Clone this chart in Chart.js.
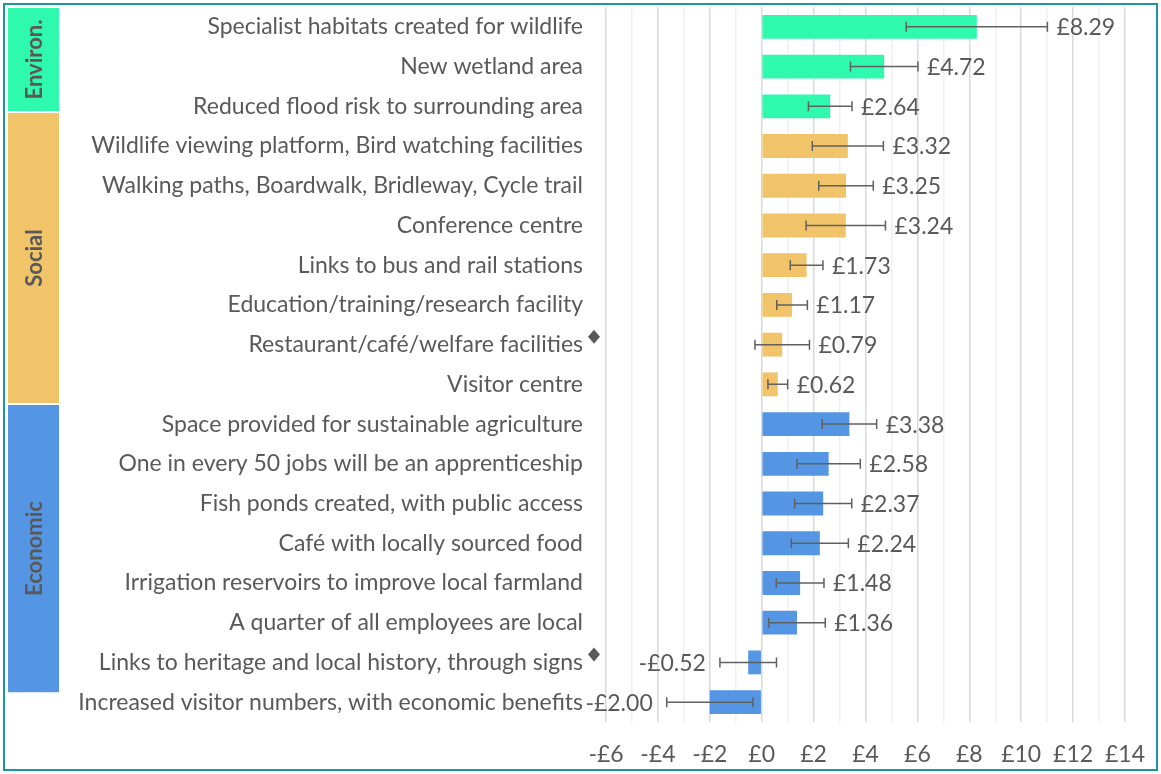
<!DOCTYPE html>
<html>
<head>
<meta charset="utf-8">
<script src="https://cdn.jsdelivr.net/npm/chart.js@4"></script>
<style>
  body { margin: 0; background: #fff; }
  canvas { display: block; }
</style>
</head>
<body>
<canvas id="wtpChart" width="1161" height="774"></canvas>
<script>
const categories = [
  "Specialist habitats created for wildlife",
  "New wetland area",
  "Reduced flood risk to surrounding area",
  "Wildlife viewing platform, Bird watching facilities",
  "Walking paths, Boardwalk, Bridleway, Cycle trail",
  "Conference centre",
  "Links to bus and rail stations",
  "Education/training/research facility",
  "Restaurant/café/welfare facilities",
  "Visitor centre",
  "Space provided for sustainable agriculture",
  "One in every 50 jobs will be an apprenticeship",
  "Fish ponds created, with public access",
  "Café with locally sourced food",
  "Irrigation reservoirs to improve local farmland",
  "A quarter of all employees are local",
  "Links to heritage and local history, through signs",
  "Increased visitor numbers, with economic benefits"
];
const values = [8.29, 4.72, 2.64, 3.32, 3.25, 3.24, 1.73, 1.17, 0.79, 0.62, 3.38, 2.58, 2.37, 2.24, 1.48, 1.36, -0.52, -2.00];
const errors = [2.72, 1.30, 0.84, 1.37, 1.05, 1.53, 0.63, 0.59, 1.05, 0.38, 1.05, 1.22, 1.10, 1.10, 0.92, 1.09, 1.09, 1.66];
const groupOf = [0, 0, 0, 1, 1, 1, 1, 1, 1, 1, 2, 2, 2, 2, 2, 2, 2, 2];
const flagged = [8, 16];
const groupNames = ["Environ.", "Social", "Economic"];
const groupColors = ["#2ff9ae", "#f1c46a", "#5596e4"];
const xTicks = [-6, -4, -2, 0, 2, 4, 6, 8, 10, 12, 14];

// band extents in category units (hand placed in the original)
const bandSpans = [[-0.475, 2.12], [2.17, 9.47], [9.52, 16.75]];

const textColor = "#595959";
const fontFamily = "Lato, 'Noto Sans', sans-serif";
const fontSize = 23;

function money(v) {
  return (v < 0 ? "-£" : "£") + Math.abs(v).toFixed(2);
}

const decorations = {
  id: "decorations",
  beforeDraw(chart) {
    const ctx = chart.ctx;
    ctx.save();
    ctx.fillStyle = "#fff";
    ctx.fillRect(0, 0, chart.width, chart.height);
    ctx.restore();
  },
  afterDatasetsDraw(chart) {
    const ctx = chart.ctx;
    const x = chart.scales.x;
    const y = chart.scales.y;
    ctx.save();

    // error bars + value labels
    ctx.strokeStyle = "#606060";
    ctx.lineWidth = 1.5;
    ctx.font = fontSize + "px " + fontFamily;
    ctx.fillStyle = textColor;
    ctx.textBaseline = "middle";
    values.forEach((v, i) => {
      const yc = y.getPixelForValue(i);
      const lo = x.getPixelForValue(v - errors[i]);
      const hi = x.getPixelForValue(v + errors[i]);
      ctx.beginPath();
      ctx.moveTo(lo, yc); ctx.lineTo(hi, yc);
      ctx.moveTo(lo, yc - 5); ctx.lineTo(lo, yc + 5);
      ctx.moveTo(hi, yc - 5); ctx.lineTo(hi, yc + 5);
      ctx.stroke();
      if (v >= 0) {
        ctx.textAlign = "left";
        ctx.fillText(money(v), hi + 9, yc + 1);
      } else {
        ctx.textAlign = "right";
        ctx.fillText(money(v), lo - 14, yc + 1);
      }
    });

    // diamonds after flagged labels
    ctx.fillStyle = textColor;
    flagged.forEach(i => {
      const cx = y.right - 12;
      const cy = y.getPixelForValue(i) - 8;
      ctx.beginPath();
      ctx.moveTo(cx, cy - 7);
      ctx.lineTo(cx + 6, cy);
      ctx.lineTo(cx, cy + 7);
      ctx.lineTo(cx - 6, cy);
      ctx.closePath();
      ctx.fill();
    });

    // group bands
    bandSpans.forEach((span, g) => {
      const top = y.getPixelForValue(span[0]);
      const bottom = y.getPixelForValue(span[1]);
      ctx.fillStyle = groupColors[g];
      ctx.fillRect(8, top, 51, bottom - top);
      ctx.save();
      ctx.translate(35, (top + bottom) / 2);
      ctx.rotate(-Math.PI / 2);
      ctx.fillStyle = textColor;
      ctx.font = "bold 22px " + fontFamily;
      ctx.textAlign = "center";
      ctx.textBaseline = "middle";
      ctx.fillText(groupNames[g], 0, 0);
      ctx.restore();
    });

    // outer border
    ctx.strokeStyle = "#1d9898";
    ctx.lineWidth = 2;
    ctx.strokeRect(4, 4, chart.width - 8, chart.height - 8);
    ctx.restore();
  }
};

new Chart(document.getElementById("wtpChart"), {
  type: "bar",
  data: {
    labels: categories,
    datasets: [{
      data: values,
      backgroundColor: groupOf.map(g => groupColors[g]),
      borderWidth: 0,
      barPercentage: 0.6,
      categoryPercentage: 1
    }]
  },
  options: {
    indexAxis: "y",
    responsive: false,
    devicePixelRatio: 1,
    animation: false,
    layout: { padding: { top: 7, right: 36, left: 0, bottom: 0 } },
    plugins: { legend: { display: false }, tooltip: { enabled: false } },
    scales: {
      x: {
        min: xTicks[0],
        max: xTicks[xTicks.length - 1],
        afterBuildTicks(scale) {
          const t = [];
          for (let v = xTicks[0]; v <= xTicks[xTicks.length - 1]; v++) t.push({ value: v });
          scale.ticks = t;
        },
        afterFit(scale) {
          scale.height = 52;
          scale.paddingLeft = 0;
          scale.paddingRight = 0;
        },
        border: { display: false },
        grid: {
          drawTicks: false,
          lineWidth: 1.5,
          color: c => (c.tick && xTicks.includes(c.tick.value)) ? "#d9d9d9" : "#f0f0f0"
        },
        ticks: {
          autoSkip: false,
          maxRotation: 0,
          padding: 19,
          color: textColor,
          font: { family: fontFamily, size: fontSize },
          callback: v => xTicks.includes(v) ? money(v).replace(".00", "") : ""
        }
      },
      y: {
        afterFit(scale) {
          scale.width = 606;
          scale.paddingTop = 0;
          scale.paddingBottom = 0;
        },
        border: { display: false },
        grid: { display: false, drawTicks: false },
        ticks: {
          autoSkip: false,
          padding: 23,
          color: textColor,
          font: { family: fontFamily, size: fontSize }
        }
      }
    }
  },
  plugins: [decorations]
});
</script>
</body>
</html>
